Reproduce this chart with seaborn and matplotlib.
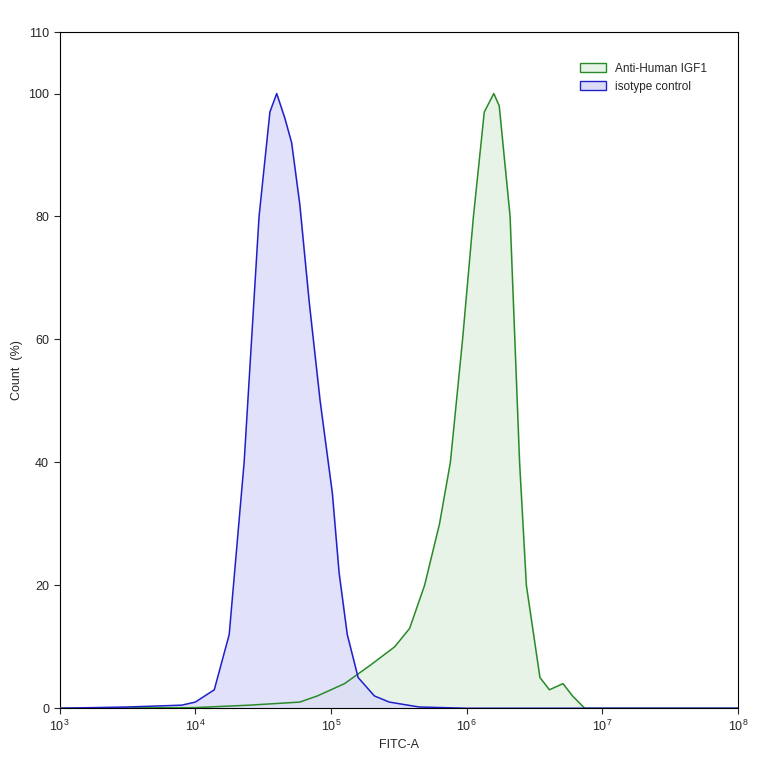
import matplotlib
matplotlib.use("Agg")
import matplotlib.pyplot as plt
import seaborn as sns
import numpy as np
from matplotlib.patches import Patch

blue_logx = [3.0, 3.5, 3.9, 4.0, 4.14, 4.25, 4.36, 4.47, 4.55, 4.6, 4.66, 4.71, 4.77, 4.84, 4.92, 5.01, 5.06, 5.12, 5.2, 5.32, 5.43, 5.65, 6.0, 8.0]
blue_y = [0, 0.2, 0.5, 1, 3, 12, 40, 80, 97, 100, 96, 92, 82, 66, 50, 35, 22, 12, 5, 2, 1, 0.2, 0, 0]
green_logx = [3.0, 4.0, 4.4, 4.77, 4.9, 5.1, 5.29, 5.47, 5.58, 5.69, 5.8, 5.88, 5.97, 6.05, 6.13, 6.2, 6.24, 6.32, 6.39, 6.44, 6.54, 6.61, 6.71, 6.78, 6.87, 8.0]
green_y = [0, 0.1, 0.5, 1, 2, 4, 7, 10, 13, 20, 30, 40, 60, 80, 97, 100, 98, 80, 40, 20, 5, 3, 4, 2, 0, 0]

sns.set_style("white")
plt.rcParams['font.family'] = ['Liberation Sans', 'DejaVu Sans']
fig, ax = plt.subplots(figsize=(7.64, 7.64), dpi=100)
fig.subplots_adjust(left=0.078, right=0.966, bottom=0.073, top=0.958)

gx = np.power(10.0, green_logx); bx = np.power(10.0, blue_logx)
ax.fill_between(gx, green_y, color="#e6f3e6", zorder=1)
sns.lineplot(x=gx, y=green_y, color="#2a8a2a", lw=1.1, ax=ax, zorder=3)
ax.fill_between(bx, blue_y, color="#dcdcf8", alpha=0.85, zorder=2)
sns.lineplot(x=bx, y=blue_y, color="#2020c8", lw=1.1, ax=ax, zorder=4)

ax.set_xscale("log")
ax.set_xlim(1e3, 1e8)
ax.set_ylim(0, 110)
ax.set_yticks([0,20,40,60,80,100,110])
ax.set_xticks([1e3,1e4,1e5,1e6,1e7,1e8])
ax.minorticks_off()
ax.tick_params(direction="out", length=4, labelsize=9, left=True, bottom=True)
for s in ax.spines.values():
    s.set_color("black"); s.set_linewidth(0.8)
ax.set_xlabel("FITC-A", fontsize=9)
ax.set_ylabel("Count  (%)", fontsize=9)
handles = [Patch(facecolor="#e6f3e6", edgecolor="#2a8a2a", label="Anti-Human IGF1"),
           Patch(facecolor="#dcdcf8", edgecolor="#2020c8", label="isotype control")]
ax.legend(handles=handles, loc="upper right", bbox_to_anchor=(0.97, 0.97), frameon=False, fontsize=8.5,
          handlelength=2.2, handleheight=0.8)
fig.savefig("out.png", dpi=100)
